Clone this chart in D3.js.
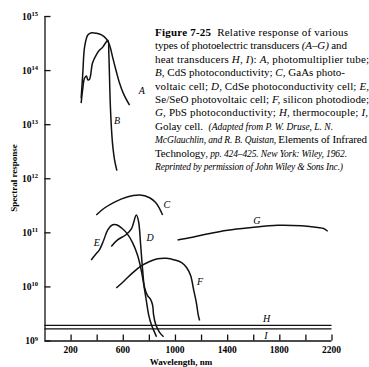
<!DOCTYPE html>
<html>
<head>
<meta charset="utf-8">
<script src="https://cdn.jsdelivr.net/npm/d3@7"></script>
<style>
  body { margin: 0; background: #fff; }
  svg { display: block; }
  .serif { font-family: 'Liberation Serif', 'DejaVu Serif', serif; }
</style>
</head>
<body>
<div id="chart"></div>
<script>
// wavelength (nm) and log10 of spectral response
const curveA = [[281, 13.48], [294, 13.96], [307, 14.42], [332, 14.65], [361, 14.69], [399, 14.68], [437, 14.65],
  [473, 14.58], [499, 14.46], [522, 14.24], [552, 13.96], [575, 13.76], [606, 13.56], [652, 13.35]];
const curveB = [[281, 13.39], [292, 13.63], [307, 13.85], [322, 13.89], [332, 13.82], [345, 13.83], [368, 14.13],
  [397, 14.28], [422, 14.37], [445, 14.42], [473, 14.52], [487, 14.55], [493, 14.31], [504, 13.39], [514, 12.89],
  [524, 12.58], [537, 12.34], [555, 12.14]];
const curveC = [[397, 11.32], [460, 11.45], [537, 11.56], [627, 11.65], [729, 11.69], [806, 11.64], [852, 11.55],
  [882, 11.44], [905, 11.32]];
const curveD = [[512, 10.74], [560, 10.86], [627, 10.96], [667, 11.07], [704, 11.32], [721, 11.20], [737, 10.77],
  [752, 10.31], [767, 9.98], [790, 9.83], [813, 9.76], [829, 9.65], [836, 9.48], [852, 9.30], [882, 9.15], [913, 9.07]];
const curveE = [[358, 10.49], [391, 10.59], [422, 10.68], [453, 10.85], [486, 11.05], [522, 11.14], [552, 11.14],
  [591, 11.08], [629, 10.99], [675, 10.81], [714, 10.57], [744, 10.27], [767, 9.94], [783, 9.70], [798, 9.48],
  [821, 9.28], [844, 9.15], [859, 9.07]];
const curveF = [[550, 9.97], [614, 10.11], [675, 10.25], [736, 10.37], [806, 10.46], [867, 10.51], [934, 10.52],
  [997, 10.49], [1051, 10.44], [1089, 10.35], [1120, 10.20], [1143, 9.94], [1164, 9.70], [1178, 9.48], [1189, 9.37]];
const curveG = [[1020, 10.86], [1112, 10.90], [1227, 10.96], [1404, 11.04], [1588, 11.09], [1788, 11.13],
  [1972, 11.12], [2094, 11.09], [2140, 11.07], [2171, 11.02]];
const curveH = [[0, 9.28], [2200, 9.28]];
const curveI = [[0, 9.215], [2200, 9.215]];

const curveLabels = [['A', 745, 13.63], ['B', 556, 13.06], ['C', 937, 11.52], ['D', 809, 10.90], ['E', 400, 10.81],
  ['F', 1192, 10.09], ['G', 1627, 11.21], ['H', 1703, 9.41], ['I', 1698, 9.10]];

const xTicks = [200, 400, 600, 800, 1000, 1200, 1400, 1600, 1800, 2000, 2200];
const xTickLabels = [200, 600, 1000, 1400, 1800, 2200];
const yExponents = [9, 10, 11, 12, 13, 14, 15];

// caption lines: each is a list of [text, style] pieces
const caption = [
  [['Figure 7-25', 'b'], ['  Relative response of various', 'r']],
  [['types of photoelectric transducers ', 'r'], ['(A–G)', 'i'], [' and', 'r']],
  [['heat transducers ', 'r'], ['H, I', 'i'], ['): ', 'r'], ['A,', 'i'], [' photomultiplier tube;', 'r']],
  [['B,', 'i'], [' CdS photoconductivity; ', 'r'], ['C,', 'i'], [' GaAs photo-', 'r']],
  [['voltaic cell; ', 'r'], ['D,', 'i'], [' CdSe photoconductivity cell; ', 'r'], ['E,', 'i']],
  [['Se/SeO photovoltaic cell; ', 'r'], ['F,', 'i'], [' silicon photodiode;', 'r']],
  [['G,', 'i'], [' PbS photoconductivity; ', 'r'], ['H,', 'i'], [' thermocouple; ', 'r'], ['I,', 'i']],
  [['Golay cell.  ', 'r'], ['(Adapted from P. W. Druse, L. N.', 's']],
  [['McGlauchlin, and R. B. Quistan, ', 's'], ['Elements of Infrared', 'r']],
  [['Technology', 'r'], [', pp. 424–425. New York: Wiley, 1962.', 's']],
  [['Reprinted by permission of John Wiley & Sons Inc.)', 's']]
];
// right edge of each caption line in the figure
const captionEnds = [348, 347, 369, 345, 369, 369, 368, 333, 367, 347, 343];

const width = 369;
const height = 367;

const x = d3.scaleLinear().domain([0, 2200]).range([44.5, 331.5]);
const y = d3.scaleLog().domain([1e9, 1e15]).range([340.5, 16]);

const svg = d3.select('#chart').append('svg')
  .attr('width', width)
  .attr('height', height)
  .attr('class', 'serif');

/* axes */
const yAxis = d3.axisRight(y)
  .tickValues(yExponents.map(e => Math.pow(10, e)))
  .tickSize(6)
  .tickFormat('');
svg.append('g')
  .attr('transform', `translate(${x(0)},0)`)
  .call(yAxis)
  .call(g => g.select('.domain').attr('d', `M0.5,${y(1e15)}V${y(1e9)}`))
  .selectAll('line, path').attr('stroke', '#111').attr('stroke-width', 1.3);

const xAxis = d3.axisTop(x)
  .tickValues(xTicks)
  .tickSize(6)
  .tickFormat('');
svg.append('g')
  .attr('transform', `translate(0,${y(1e9)})`)
  .call(xAxis)
  .call(g => g.select('.domain').attr('d', `M${x(0)},0.5H${x(2200)}`))
  .selectAll('line, path').attr('stroke', '#111').attr('stroke-width', 1.3);

svg.append('g')
  .selectAll('text')
  .data(xTickLabels)
  .enter()
  .append('text')
  .attr('x', d => x(d))
  .attr('y', y(1e9) + 12)
  .attr('text-anchor', 'middle')
  .style('font-size', '9.5px')
  .style('font-weight', 'bold')
  .text(d => d);

const yLab = svg.append('g')
  .selectAll('text')
  .data(yExponents)
  .enter()
  .append('text')
  .attr('x', 38)
  .attr('y', d => y(Math.pow(10, d)) + 3.5)
  .attr('text-anchor', 'end')
  .style('font-size', '9.5px')
  .style('font-weight', 'bold');
yLab.append('tspan').text('10');
yLab.append('tspan')
  .attr('dy', -3.5)
  .style('font-size', '6.5px')
  .text(d => d);

svg.append('text')
  .attr('transform', 'translate(17,178) rotate(-90)')
  .attr('text-anchor', 'middle')
  .style('font-size', '9px')
  .style('font-weight', 'bold')
  .text('Spectral response');

svg.append('text')
  .attr('x', 181)
  .attr('y', 365)
  .attr('text-anchor', 'middle')
  .style('font-size', '9px')
  .style('font-weight', 'bold')
  .text('Wavelength, nm');

/* curves */
const line = d3.line()
  .x(d => x(d[0]))
  .y(d => y(Math.pow(10, d[1])))
  .curve(d3.curveCatmullRom.alpha(0.5));

const curves = [curveA, curveB, curveC, curveD, curveE, curveF, curveG, curveH, curveI];
svg.append('g')
  .selectAll('path')
  .data(curves)
  .enter()
  .append('path')
  .attr('d', d => line(d))
  .attr('fill', 'none')
  .attr('stroke', '#111')
  .attr('stroke-width', (d, i) => i > 6 ? 1.1 : 1.5);

svg.append('g')
  .selectAll('text')
  .data(curveLabels)
  .enter()
  .append('text')
  .attr('x', d => x(d[1]))
  .attr('y', d => y(Math.pow(10, d[2])))
  .attr('dy', '0.35em')
  .attr('text-anchor', 'middle')
  .style('font-size', '10px')
  .style('font-style', 'italic')
  .text(d => d[0]);

/* caption */
const cap = svg.append('g');
caption.forEach(function(parts, i) {
  const t = cap.append('text')
    .attr('x', 155)
    .attr('y', 36 + i * 13.4)
    .attr('xml:space', 'preserve')
    .attr('textLength', captionEnds[i] - 155)
    .style('font-size', '11px');
  parts.forEach(function(p) {
    const s = t.append('tspan').text(p[0]);
    if (p[1] === 'b') s.style('font-weight', 'bold');
    if (p[1] === 'i') s.style('font-style', 'italic');
    if (p[1] === 's') s.style('font-style', 'italic').style('font-size', '9.5px');
  });
});
</script>
</body>
</html>
